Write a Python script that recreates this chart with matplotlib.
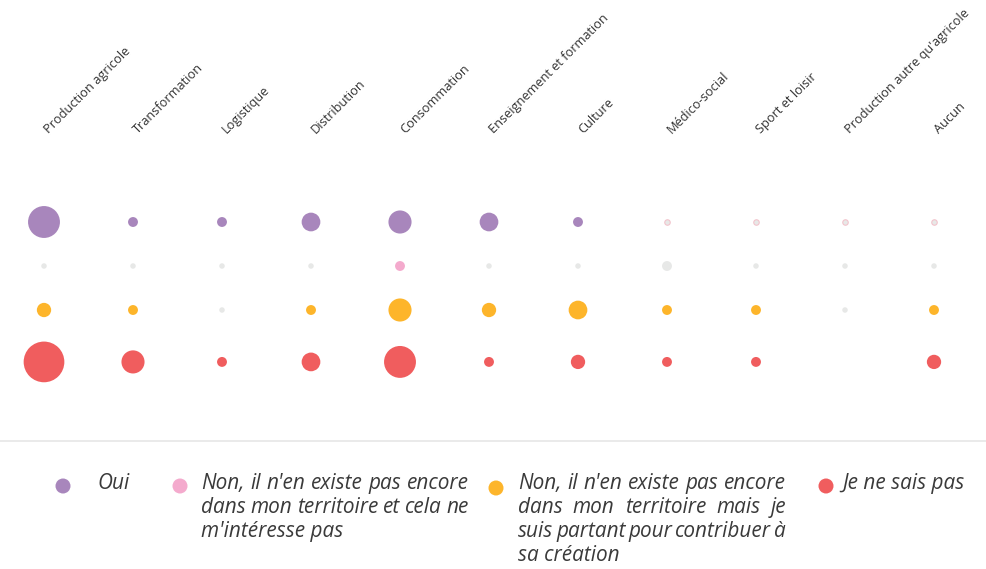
import numpy as np
import matplotlib
matplotlib.use("Agg")
import matplotlib.pyplot as plt

# ---- data -------------------------------------------------------------
categories = [
    "Production agricole", "Transformation", "Logistique", "Distribution",
    "Consommation", "Enseignement et formation", "Culture", "Médico-social",
    "Sport et loisir", "Production autre qu'agricole", "Aucun",
]
series_names = [
    "Oui",
    "Non, il n'en existe pas encore dans mon territoire et cela ne m'intéresse pas",
    "Non, il n'en existe pas encore dans mon territoire mais je suis partant pour contribuer à sa création",
    "Je ne sais pas",
]
oui = [6, 1, 1, 3, 4, 3, 1, 0, 0, 0, 0]
non_pas_interesse = [0, 0, 0, 0, 1, 0, 0, 1, 0, 0, 0]
non_partant = [2, 1, 0, 1, 4, 2, 3, 1, 1, 0, 1]
ne_sais_pas = [8, 4, 1, 3, 6, 1, 2, 1, 1, np.nan, 2]
series_values = [oui, non_pas_interesse, non_partant, ne_sais_pas]
# points shown as inactive (grey) although they carry a value
inactive = {(1, 7)}

colors = ["#a886bc", "#f4aacd", "#fdb52b", "#f05d5e"]
zero_color = "#e7e8e7"
zero_edges = ["#f2c4cc", "none", "none", "none"]

# ---- layout -----------------------------------------------------------
W, H, DPI = 986, 569, 100
fig = plt.figure(figsize=(W / DPI, H / DPI), dpi=DPI)
fig.patch.set_facecolor("white")

col_px, x0_px = 89.0, 44.0
row_px, y0_px = 44.0, 222.0
row_pos = [0, 1, 2, 3.18]

ax = fig.add_axes([0, 0, 1, 1])
ax.set_xlim(-x0_px / col_px, (W - x0_px) / col_px)
ax.set_ylim((H - y0_px) / row_px, -y0_px / row_px)
ax.axis("off")


def diameter_px(v):
    return 5.5 + 4.4 * v


def size_pt2(d):
    return (d * 72.0 / DPI) ** 2


for r, vals in enumerate(series_values):
    for c, v in enumerate(vals):
        if v is None or (isinstance(v, float) and np.isnan(v)):
            continue
        if v == 0 or (r, c) in inactive:
            fc = zero_color
            ec = zero_edges[r] if v == 0 else "none"
        else:
            fc = colors[r]
            ec = "none"
        ax.scatter([c], [row_pos[r]], s=size_pt2(diameter_px(v)), c=fc,
                   edgecolors=ec, linewidths=0.8, zorder=3)

label_y = (134 - y0_px) / row_px
for c, name in enumerate(categories):
    ax.text(c + 5 / col_px, label_y, name, rotation=45, rotation_mode="anchor",
            ha="left", va="baseline", fontsize=9.2, family="Open Sans",
            color="#333333")

# ---- legend (pixel coordinates) -------------------------------------
lax = fig.add_axes([0, 0, 1, 1])
lax.set_xlim(0, W)
lax.set_ylim(H, 0)
lax.axis("off")
lax.patch.set_alpha(0)

lax.plot([0, W], [440.5, 440.5], color="#e6e6e6", lw=1.2)

renderer = fig.canvas.get_renderer()
font = dict(family="Open Sans", style="italic", fontsize=13.5, color="#3a3a3a")

# fit the legend font so a full line fills its 268 px column
probe = lax.text(0, 0, "Non, il n'en existe pas encore", **font)
wprobe = probe.get_window_extent(renderer).width
probe.remove()
font["fontsize"] = font["fontsize"] * 266.0 / wprobe


def draw_block(x, y, lines, width=None, lh=24.0):
    for i, line in enumerate(lines):
        yy = y + i * lh
        words = line.split()
        if width is None or i == len(lines) - 1 or len(words) < 2:
            lax.text(x, yy, line, ha="left", va="baseline", **font)
            continue
        texts = [lax.text(0, yy, w, ha="left", va="baseline", **font) for w in words]
        widths = [t.get_window_extent(renderer).width for t in texts]
        gap = (width - sum(widths)) / (len(words) - 1)
        xx = x
        for t, w in zip(texts, widths):
            t.set_x(xx)
            xx += w + gap


legend_items = [
    (63, 486, 97, ["Oui"], None),
    (180, 486, 201, ["Non, il n'en existe pas encore",
                     "dans mon territoire et cela ne",
                     "m'intéresse pas"], 268),
    (496, 488, 518, ["Non, il n'en existe pas encore",
                     "dans mon territoire mais je",
                     "suis partant pour contribuer à",
                     "sa création"], 268),
    (826, 486, 842, ["Je ne sais pas"], None),
]
for (mx, my, tx, lines, width), col in zip(legend_items, colors):
    lax.scatter([mx], [my], s=size_pt2(15), c=col, edgecolors="none")
    draw_block(tx, 489, lines, width)

fig.savefig("out.png", dpi=DPI, facecolor="white")
